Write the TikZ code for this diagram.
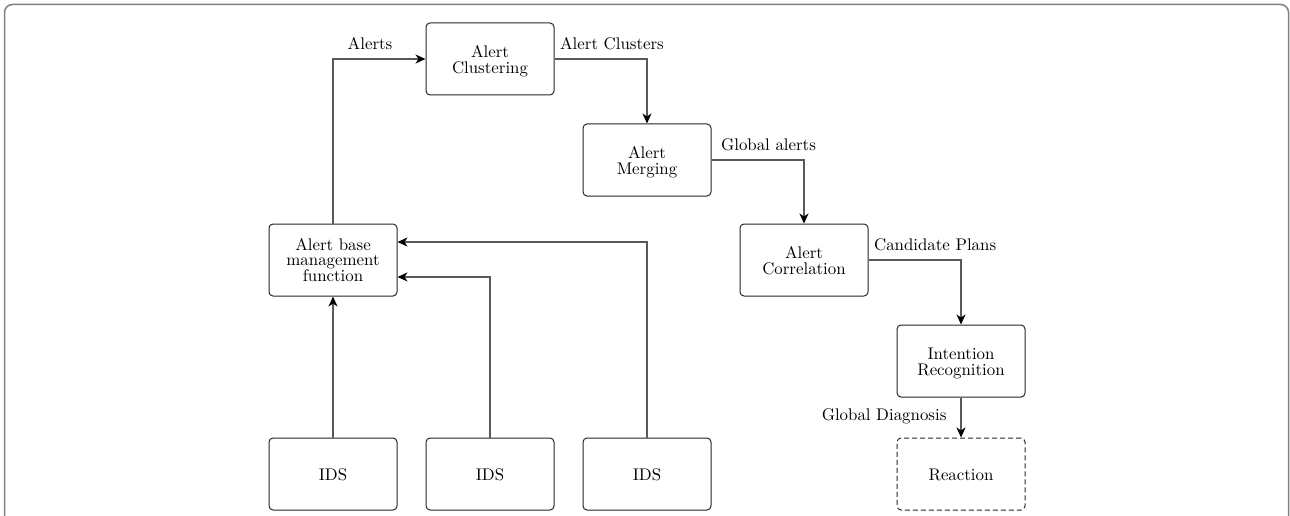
\documentclass[tikz,border=0pt]{standalone}
\usetikzlibrary{arrows.meta}
\newcommand{\txt}[1]{\scalebox{1.685}{\fontsize{10}{8.9}\selectfont\begin{tabular}{@{}c@{}}#1\end{tabular}}}
\newcommand{\btxt}[1]{\raisebox{0pt}[\dimexpr\height+5pt\relax][\depth]{\txt{#1}}}
\begin{document}
\begin{tikzpicture}[x=1pt,y=-1pt,
  box/.style={draw=black!85, line width=1pt, rounded corners=4pt, minimum width=128pt, minimum height=72pt, align=center, inner sep=0pt},
  dbox/.style={box, dashed, dash pattern=on 5pt off 3pt},
  arr/.style={draw=black!65, line width=1.2pt, -{Stealth[length=10pt,width=9pt,inset=3pt,color=black]}},
  lbl/.style={inner sep=0pt}]
\useasboundingbox (0,0) rectangle (1290,516);
\begin{scope}
  \clip (0,0) rectangle (1290,516);
  \draw[black!50, line width=1.5pt, rounded corners=8pt] (4.5,4.5) rectangle (1288.5,540);
\end{scope}
\node[box] (clus) at (490,59) {\btxt{Alert\\Clustering}};
\node[box] (merg) at (647,160) {\btxt{Alert\\Merging}};
\node[box] (corr) at (804,260) {\btxt{Alert\\Correlation}};
\node[box] (intent) at (961,361) {\btxt{Intention\\Recognition}};
\node[dbox] (react) at (961,474) {\btxt{Reaction}};
\node[box] (abm) at (333,260) {\btxt{Alert base\\management\\function}};
\node[box] (ids1) at (333,474) {\btxt{IDS}};
\node[box] (ids2) at (490,474) {\btxt{IDS}};
\node[box] (ids3) at (647,474) {\btxt{IDS}};

\draw[arr] (abm.north) |- (clus.west) node[lbl, pos=0.7, anchor=base, yshift=9pt] {\txt{Alerts}};
\draw[arr] (clus.east) -| (merg.north) node[lbl, pos=0, anchor=base west, xshift=5pt, yshift=9pt] {\txt{Alert Clusters}};
\draw[arr] (merg.east) -| (corr.north) node[lbl, pos=0, anchor=base west, xshift=9pt, yshift=9pt] {\txt{Global alerts}};
\draw[arr] (corr.east) -| (intent.north) node[lbl, pos=0, anchor=base west, xshift=5pt, yshift=9pt] {\txt{Candidate Plans}};
\draw[arr] (intent.south) -- (react.north) node[lbl, pos=0.5, anchor=base east, xshift=-14pt, yshift=-3.5pt] {\txt{Global Diagnosis}};
\draw[arr] (ids1.north) -- (abm.south);
\draw[arr] (ids2.north) |- ([yshift=-17pt]abm.east);
\draw[arr] (ids3.north) |- ([yshift=18pt]abm.east);
\end{tikzpicture}
\end{document}
